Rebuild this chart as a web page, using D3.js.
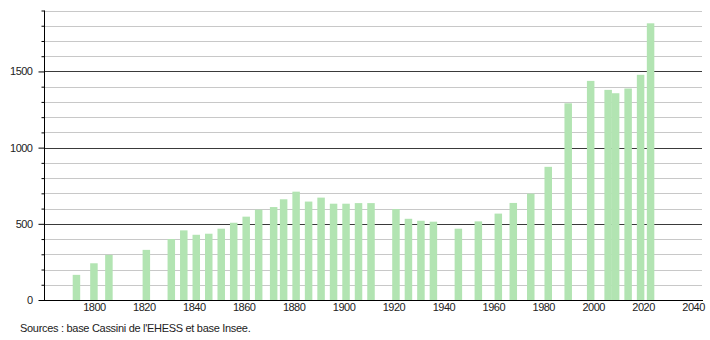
<!DOCTYPE html>
<html>
<head>
<meta charset="utf-8">
<script src="https://cdn.jsdelivr.net/npm/d3@7"></script>
<style>
  body { margin: 0; background: #fff; }
  text { font-family: "Liberation Sans", Arial, sans-serif; }
</style>
</head>
<body>
<div id="chart"></div>
<script>
// census years and population
const years = [1793, 1800, 1806, 1821, 1831, 1836, 1841, 1846, 1851, 1856,
    1861, 1866, 1872, 1876, 1881, 1886, 1891, 1896, 1901, 1906,
    1911, 1921, 1926, 1931, 1936, 1946, 1954, 1962, 1968, 1975,
    1982, 1990, 1999, 2006, 2009, 2014, 2019, 2023];
const population = [165, 241, 296, 329, 400, 457, 428, 435, 468, 507,
    547, 593, 610, 661, 711, 646, 672, 632, 632, 636,
    636, 597, 533, 520, 514, 468, 516, 567, 637, 698,
    874, 1291, 1438, 1379, 1357, 1388, 1478, 1816];
const xTicks = [1800, 1820, 1840, 1860, 1880, 1900, 1920, 1940, 1960, 1980, 2000, 2020, 2040];
const yLabels = [0, 500, 1000, 1500];
const sourceText = "Sources : base Cassini de l'EHESS et base Insee.";

const data = years.map((y, i) => ({ year: y, pop: population[i] }));

const width = 710, height = 340;
const svg = d3.select('#chart').append('svg')
    .attr('width', width)
    .attr('height', height);

const x = d3.scaleLinear().domain([1780, 2044]).range([44, 703]);
const y = d3.scaleLinear().domain([0, 1900]).range([300, 10.5]);

// grid lines every 100, darker every 500
const gridVals = d3.range(100, 1901, 100);
svg.append('g')
    .selectAll('line')
    .data(gridVals)
    .enter()
    .append('line')
    .attr('x1', 44)
    .attr('x2', 702)
    .attr('y1', (d) => Math.round(y(d)) + 0.5)
    .attr('y2', (d) => Math.round(y(d)) + 0.5)
    .attr('stroke', (d) => d % 500 === 0 ? '#3a3a3a' : '#c8c8c8')
    .attr('stroke-width', 1);

// bars
const barW = 7.5;
svg.append('g')
    .selectAll('rect')
    .data(data)
    .enter()
    .append('rect')
    .attr('x', (d) => x(d.year) - barW / 2)
    .attr('width', barW)
    .attr('y', (d) => y(d.pop))
    .attr('height', (d) => y(0) - y(d.pop))
    .attr('fill', '#b2e4b2');

// y axis: minor ticks every 100, labels every 500
const yAxis = d3.axisLeft(y)
    .tickValues(d3.range(0, 1901, 100))
    .tickSize(3)
    .tickFormat((d) => yLabels.includes(d) ? d : '');
const gy = svg.append('g')
    .attr('transform', 'translate(44.5,0)')
    .call(yAxis);
gy.select('.domain').attr('stroke', '#000').attr('d', `M0,${y(1900)}V${y(0)}`);
gy.selectAll('.tick line')
    .attr('stroke', '#000')
    .attr('x2', (d) => d % 500 === 0 ? -6 : -3);
gy.selectAll('.tick text')
    .attr('x', -12)
    .attr('font-size', 11)
    .attr('letter-spacing', -0.5)
    .attr('fill', '#222');

// x axis line and labels
const xAxis = d3.axisBottom(x)
    .tickValues(xTicks)
    .tickSize(0)
    .tickFormat(d3.format('d'));
const gx = svg.append('g')
    .attr('transform', 'translate(0,300.5)')
    .call(xAxis);
gx.select('.domain').attr('stroke', '#000').attr('d', 'M44,0H703');
gx.selectAll('.tick text')
    .attr('y', 3)
    .attr('font-size', 11)
    .attr('letter-spacing', -0.5)
    .attr('fill', '#222');

// source note
svg.append('text')
    .attr('x', 20)
    .attr('y', 332)
    .attr('font-size', 11)
    .attr('letter-spacing', -0.3)
    .attr('fill', '#222')
    .text(sourceText);
</script>
</body>
</html>
